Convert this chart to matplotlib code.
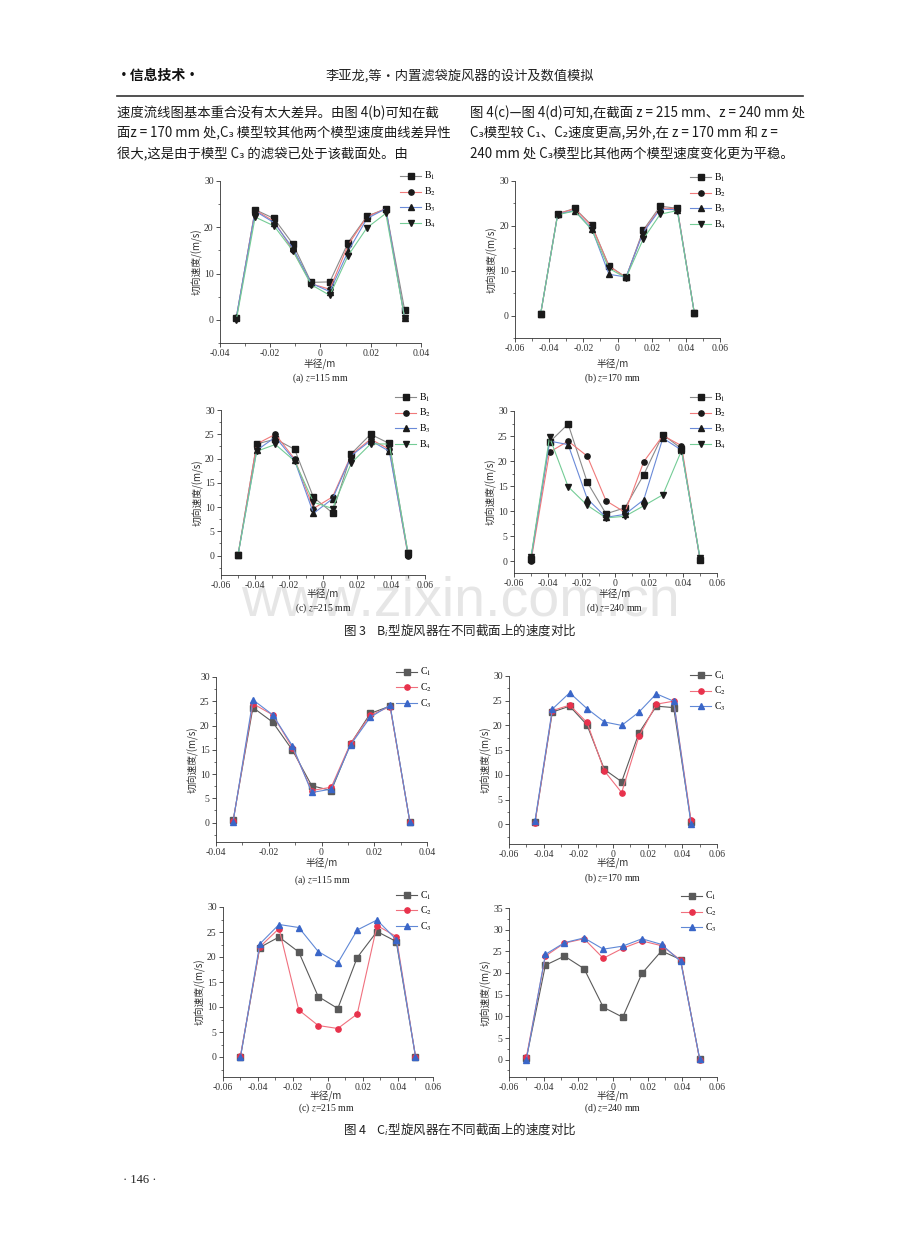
import matplotlib
matplotlib.use("Agg")
import matplotlib.pyplot as plt
from matplotlib.ticker import MultipleLocator, FuncFormatter
from matplotlib.lines import Line2D

plt.rcParams['font.family'] = ['Liberation Serif', 'Noto Sans CJK SC', 'DejaVu Sans']
plt.rcParams['mathtext.fontset'] = 'stix'
plt.rcParams['axes.unicode_minus'] = False

W, H = 920, 1238
CJK = ['Noto Sans CJK SC', 'DejaVu Sans']

#==========================Data==========================

# radial positions (m)
r115 = [-0.0335, -0.026, -0.0185, -0.011, -0.0037, 0.0037, 0.011, 0.0185, 0.026, 0.0335]
r170 = [-0.045, -0.035, -0.025, -0.015, -0.005, 0.005, 0.015, 0.025, 0.035, 0.045]
r215 = [-0.050, -0.039, -0.028, -0.0167, -0.0056, 0.0056, 0.0167, 0.028, 0.039, 0.050]
r240 = r215

# Fig 3: B-type
b115 = [[0.5, 23.8, 21.9, 16.4, 8.1, 8.2, 16.7, 22.4, 24.0, 2.1],
        [0.3, 23.7, 21.3, 15.0, 7.8, 6.6, 16.2, 22.3, 24.0, 0.3],
        [0.6, 23.5, 21.0, 15.5, 7.9, 6.1, 14.8, 21.9, 24.0, 0.3],
        [0.0, 22.2, 20.3, 14.9, 7.6, 5.3, 13.9, 19.9, 23.0, 0.3]]
b170 = [[0.3, 22.7, 23.9, 20.1, 11.1, 8.5, 19.0, 24.4, 23.9, 0.5],
        [0.3, 22.7, 23.8, 19.9, 11.0, 8.5, 18.7, 24.0, 23.8, 0.5],
        [0.4, 22.6, 23.4, 19.3, 9.2, 8.6, 18.5, 23.7, 23.6, 0.5],
        [0.4, 22.5, 23.3, 19.1, 10.5, 8.4, 17.0, 22.6, 23.4, 0.5]]
b215 = [[0.1, 23.0, 24.0, 21.9, 12.0, 8.8, 21.0, 25.0, 23.1, 0.5],
        [0.1, 23.0, 25.0, 19.9, 9.7, 12.1, 20.8, 24.0, 21.9, 0.0],
        [0.1, 21.7, 24.4, 19.6, 8.7, 11.7, 20.6, 23.7, 21.5, 0.3],
        [0.1, 21.5, 22.9, 19.5, 11.0, 9.7, 19.1, 23.0, 23.0, 0.5]]
b240 = [[0.5, 23.8, 27.4, 15.8, 9.5, 10.7, 17.3, 25.3, 22.5, 0.3],
        [0.0, 21.8, 24.0, 21.0, 12.1, 9.8, 19.9, 25.1, 23.1, 0.3],
        [0.5, 24.0, 23.3, 12.5, 8.8, 9.4, 12.3, 24.6, 22.2, 0.5],
        [0.8, 24.8, 14.9, 11.2, 8.7, 9.0, 11.1, 13.3, 22.1, 0.7]]

# Fig 4: C-type
c115 = [[0.5, 23.7, 20.7, 14.9, 7.6, 6.6, 16.2, 22.5, 24.0, 0.2],
        [0.3, 24.5, 22.2, 15.4, 6.6, 7.3, 16.3, 22.1, 23.9, 0.1],
        [0.2, 25.3, 22.2, 15.8, 6.2, 6.9, 16.0, 21.7, 24.2, 0.1]]
c170 = [[0.4, 22.7, 23.9, 20.1, 11.1, 8.6, 18.5, 23.9, 23.6, 0.5],
        [0.3, 23.0, 24.1, 20.6, 10.8, 6.4, 17.8, 24.3, 24.9, 0.8],
        [0.7, 23.3, 26.6, 23.4, 20.7, 20.0, 22.7, 26.4, 24.9, 0.1]]
c215 = [[0.1, 21.9, 24.0, 21.0, 12.1, 9.7, 19.9, 25.1, 23.1, 0.1],
        [0.3, 22.0, 25.7, 9.4, 6.3, 5.7, 8.6, 26.3, 24.1, 0.1],
        [0.0, 22.6, 26.5, 25.9, 21.1, 18.8, 25.4, 27.4, 23.5, 0.1]]
c240 = [[0.3, 21.8, 23.9, 21.0, 12.1, 9.8, 19.9, 25.1, 23.1, 0.1],
        [0.5, 23.9, 26.9, 27.9, 23.4, 25.7, 27.4, 26.3, 23.0, 0.0],
        [0.0, 24.3, 27.0, 28.1, 25.5, 26.2, 27.9, 26.6, 22.7, 0.2]]

b_labels = [r'B$_1$', r'B$_2$', r'B$_3$', r'B$_4$']
c_labels = [r'C$_1$', r'C$_2$', r'C$_3$']
b_markers = ['s', 'o', '^', 'v']
c_markers = ['s', 'o', '^']
b_lines = ['#8a8a8a', '#f07a7a', '#6a8ad8', '#74cc96']
b_faces = ['#1a1a1a', '#1a1a1a', '#1a1a1a', '#1a1a1a']
c_lines = ['#5a5a5a', '#f0707e', '#6088d6']
c_faces = ['#5a5a5a', '#e8324c', '#3a66c8']

#==========================Figure==========================

fig = plt.figure(figsize=(W / 100, H / 100), dpi=100)


def px(x, y):
    return x / W, 1 - y / H


def make_ax(l, t, r, b, xlim, ylim, ystep):
    ax = fig.add_axes([l / W, 1 - b / H, (r - l) / W, (b - t) / H])
    ax.set_facecolor('none')
    ax.set_xlim(*xlim)
    ax.set_ylim(*ylim)
    for s in ['top', 'right']:
        ax.spines[s].set_visible(False)
    for s in ['left', 'bottom']:
        ax.spines[s].set_linewidth(0.6)
        ax.spines[s].set_color('#333333')
    ax.xaxis.set_major_locator(MultipleLocator(0.02))
    ax.xaxis.set_minor_locator(MultipleLocator(0.01))
    ax.yaxis.set_major_locator(MultipleLocator(ystep))
    ax.yaxis.set_minor_locator(MultipleLocator(ystep / 2))
    ax.xaxis.set_major_formatter(FuncFormatter(lambda v, p: '%g' % round(v, 4)))
    ax.yaxis.set_major_formatter(FuncFormatter(lambda v, p: '%g' % v))
    ax.tick_params(which='major', direction='out', length=3, width=0.6,
                   labelsize=7, colors='#333333', pad=1.5)
    ax.tick_params(which='minor', direction='out', length=1.8, width=0.5,
                   colors='#333333')
    ax.set_ylabel('切向速度/(m/s)', family=CJK, fontsize=7, color='#333333', labelpad=1)
    return ax


def draw(ax, r, series, labels, markers, lines, faces, leg_xy):
    for vals, lab, m, lc, fc in zip(series, labels, markers, lines, faces):
        ax.plot(r, vals, color=lc, lw=0.8, marker=m, markersize=3.8,
                markerfacecolor=fc, markeredgecolor=fc, label=lab)
    ax.legend(loc='upper left', bbox_to_anchor=px(*leg_xy),
              bbox_transform=fig.transFigure, frameon=False, fontsize=7,
              handlelength=2.2, handletextpad=0.3, labelspacing=0.35,
              borderpad=0, borderaxespad=0)


def captions(xc, y_xl, y_cap, tag, zval):
    fig.text(*px(xc, y_xl), '半径/m', family=CJK, fontsize=7, color='#333333',
             ha='center', va='center')
    fig.text(*px(xc, y_cap), '(%s) $z$=%s mm' % (tag, zval), fontsize=7,
             color='#222222', ha='center', va='center')


# Fig 3 panels
ax = make_ax(220, 181, 421, 343, (-0.04, 0.04), (-5, 30), 10)
draw(ax, r115, b115, b_labels, b_markers, b_lines, b_faces, (400, 170))
captions(320, 364, 378, 'a', '115')

ax = make_ax(515, 181, 720, 338, (-0.06, 0.06), (-5, 30), 10)
draw(ax, r170, b170, b_labels, b_markers, b_lines, b_faces, (690, 171))
captions(613, 364, 378, 'b', '170')

ax = make_ax(221, 410, 425, 575, (-0.06, 0.06), (-4, 30), 5)
draw(ax, r215, b215, b_labels, b_markers, b_lines, b_faces, (395, 391))
captions(323, 594, 608, 'c', '215')

ax = make_ax(514, 411, 717, 573, (-0.06, 0.06), (-2.3, 30), 5)
draw(ax, r240, b240, b_labels, b_markers, b_lines, b_faces, (690, 391))
captions(615, 594, 608, 'd', '240')

# Fig 4 panels
ax = make_ax(216, 677, 427, 842, (-0.04, 0.04), (-4, 30), 5)
draw(ax, r115, c115, c_labels, c_markers, c_lines, c_faces, (396, 666))
captions(322, 863, 880, 'a', '115')

ax = make_ax(509, 676, 717, 844, (-0.06, 0.06), (-4, 30), 5)
draw(ax, r170, c170, c_labels, c_markers, c_lines, c_faces, (690, 669))
captions(613, 863, 878, 'b', '170')

ax = make_ax(223, 907, 433, 1077, (-0.06, 0.06), (-4, 30), 5)
draw(ax, r215, c215, c_labels, c_markers, c_lines, c_faces, (396, 889))
captions(326, 1096, 1108, 'c', '215')

ax = make_ax(509, 908, 717, 1077, (-0.06, 0.06), (-4, 35), 5)
draw(ax, r240, c240, c_labels, c_markers, c_lines, c_faces, (681, 890))
captions(613, 1096, 1108, 'd', '240')

#==========================Page text==========================

fig.text(*px(117, 76), '·信息技术·', family=CJK, fontsize=10, fontweight='bold',
         ha='left', va='center', color='#111111')
fig.text(*px(460, 76), '李亚龙,等·内置滤袋旋风器的设计及数值模拟', family=CJK,
         fontsize=9.5, ha='center', va='center', color='#222222')
fig.add_artist(Line2D([117 / W, 803 / W], [1 - 96 / H, 1 - 96 / H],
                      color='#333333', lw=1.2))

left_lines = ['速度流线图基本重合没有太大差异。由图 4(b)可知在截',
              '面z = 170 mm 处,C₃ 模型较其他两个模型速度曲线差异性',
              '很大,这是由于模型 C₃ 的滤袋已处于该截面处。由']
right_lines = ['图 4(c)—图 4(d)可知,在截面 z = 215 mm、z = 240 mm 处',
               'C₃模型较 C₁、C₂速度更高,另外,在 z = 170 mm 和 z =',
               '240 mm 处 C₃模型比其他两个模型速度变化更为平稳。']
for i, (lt, rt) in enumerate(zip(left_lines, right_lines)):
    y = 113 + 20.5 * i
    fig.text(*px(117, y), lt, family=CJK, fontsize=9.6, ha='left', va='center',
             color='#1a1a1a')
    fig.text(*px(470, y), rt, family=CJK, fontsize=9.6, ha='left', va='center',
             color='#1a1a1a')

fig.text(*px(460, 630), '图 3    B$_i$型旋风器在不同截面上的速度对比', family=CJK,
         fontsize=9, ha='center', va='center', color='#222222')
fig.text(*px(460, 1129), '图 4    C$_i$型旋风器在不同截面上的速度对比', family=CJK,
         fontsize=9, ha='center', va='center', color='#222222')
fig.text(*px(140, 1180), '· 146 ·', fontsize=9, ha='center', va='center',
         color='#222222')

# watermark
fig.text(*px(460, 602), 'www.zixin.com.cn', family=['Liberation Sans'], fontsize=40,
         ha='center', va='center', color='#e6e6e6', zorder=-5)

fig.savefig('out.png', dpi=100, facecolor='white')
